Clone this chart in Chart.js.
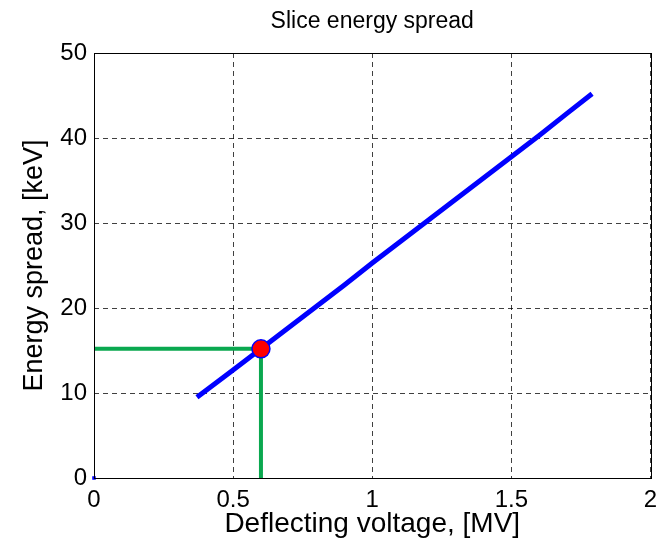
<!DOCTYPE html>
<html>
<head>
<meta charset="utf-8">
<script src="https://cdn.jsdelivr.net/npm/chart.js@4.4.1/dist/chart.umd.min.js"></script>
<style>
  html, body { margin: 0; padding: 0; background: #fff; }
  canvas { display: block; }
</style>
</head>
<body>
<canvas id="grafica" width="661" height="545"></canvas>
<script>
// values
const voltage = [0.37, 0.5, 0.6, 0.7, 0.8, 0.9, 1.0, 1.1, 1.2, 1.3, 1.4, 1.5, 1.6, 1.7, 1.79];
const spread = [9.5, 12.7, 15.2, 17.7, 20.2, 22.7, 25.3, 27.8, 30.3, 32.8, 35.3, 37.8, 40.3, 42.9, 45.2];

// working point and guide lines
const puntoX = [0.6];
const puntoY = [15.2];
const guiaX = [0, 0.6, 0.6];
const guiaY = [15.2, 15.2, 0];

const origenX = [0];
const origenY = [0];

const xTicks = [0, 0.5, 1, 1.5, 2];
const yTicks = [0, 10, 20, 30, 40, 50];

const FONT = '"Liberation Sans", Arial, sans-serif';

function pares(xs, ys) {
    return xs.map((x, i) => ({ x: x, y: ys[i] }));
}

// black box around the plot area (MATLAB style)
const marco = {
    id: 'marco',
    afterDraw(chart) {
        const a = chart.chartArea;
        const ctx = chart.ctx;
        ctx.save();
        ctx.strokeStyle = '#000';
        ctx.lineWidth = 1;
        ctx.strokeRect(Math.round(a.left) + 0.5, Math.round(a.top) + 0.5,
            Math.round(a.right - a.left), Math.round(a.bottom - a.top));
        ctx.restore();
    }
};

const ctx = document.getElementById('grafica').getContext('2d');
new Chart(ctx, {
    type: 'scatter',
    data: {
        datasets: [
            {
                label: 'guide',
                data: pares(guiaX, guiaY),
                showLine: true,
                borderColor: '#0aa84f',
                borderWidth: 4,
                pointRadius: 0,
                order: 3
            },
            {
                label: 'spread',
                data: pares(voltage, spread),
                showLine: true,
                borderColor: '#0000ff',
                borderWidth: 5,
                pointRadius: 0,
                tension: 0,
                order: 2
            },
            {
                label: 'origin',
                data: pares(origenX, origenY),
                pointStyle: 'rect',
                pointRadius: 2.5,
                backgroundColor: '#0000ff',
                borderWidth: 0,
                order: 1
            },
            {
                label: 'point',
                data: pares(puntoX, puntoY),
                pointRadius: 9,
                backgroundColor: '#ff0000',
                borderColor: '#0000ff',
                borderWidth: 1.5,
                order: 0
            }
        ]
    },
    options: {
        responsive: false,
        animation: false,
        clip: false,
        layout: { padding: { left: 0, right: 5, top: 0, bottom: 0 } },
        plugins: {
            legend: { display: false },
            tooltip: { enabled: false },
            title: {
                display: true,
                text: 'Slice energy spread',
                fullSize: false,
                color: '#000',
                font: { family: FONT, size: 23, weight: 'normal' },
                padding: { top: 8, bottom: 17.4 }
            }
        },
        scales: {
            x: {
                type: 'linear',
                min: 0,
                max: 2,
                afterBuildTicks: s => { s.ticks = xTicks.map(v => ({ value: v })); },
                afterFit: s => { s.height = 67; s.paddingLeft = 0; s.paddingRight = 0; },
                ticks: {
                    color: '#000',
                    padding: 8,
                    maxRotation: 0,
                    font: { family: FONT, size: 24 },
                    callback: v => String(v)
                },
                grid: {
                    color: 'rgba(0,0,0,0.75)',
                    lineWidth: 1,
                    drawTicks: false
                },
                border: { display: false, dash: [5, 4] },
                title: {
                    display: true,
                    text: 'Deflecting voltage, [MV]',
                    color: '#000',
                    font: { family: FONT, size: 28 },
                    padding: { top: 0, bottom: 4 }
                }
            },
            y: {
                type: 'linear',
                min: 0,
                max: 50,
                afterBuildTicks: s => { s.ticks = yTicks.map(v => ({ value: v })); },
                afterFit: s => { s.width = 94; s.paddingTop = 0; s.paddingBottom = 0; },
                ticks: {
                    color: '#000',
                    padding: 7,
                    font: { family: FONT, size: 24 },
                    callback: v => String(v)
                },
                grid: {
                    color: 'rgba(0,0,0,0.75)',
                    lineWidth: 1,
                    drawTicks: false
                },
                border: { display: false, dash: [5, 4] },
                title: {
                    display: true,
                    text: 'Energy spread, [keV]',
                    color: '#000',
                    font: { family: FONT, size: 27 },
                    padding: { top: 18, bottom: 0 }
                }
            }
        }
    },
    plugins: [marco]
});
</script>
</body>
</html>
